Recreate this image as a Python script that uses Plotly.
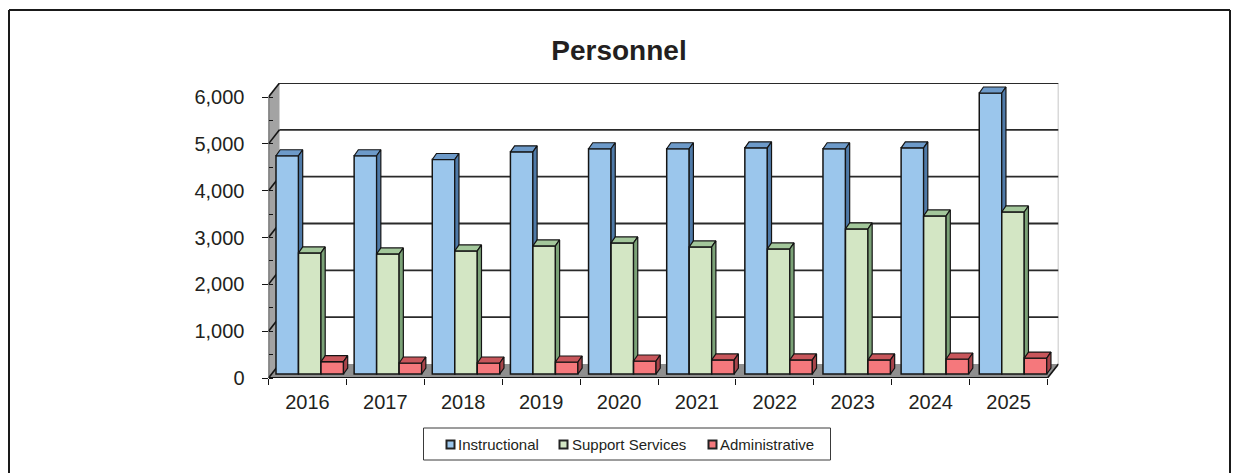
import plotly.graph_objects as go

years = ["2016", "2017", "2018", "2019", "2020", "2021", "2022", "2023", "2024", "2025"]
instructional = [4660, 4660, 4580, 4745, 4810, 4810, 4830, 4810, 4830, 6000]
support = [2585, 2564, 2628, 2735, 2800, 2714, 2670, 3098, 3376, 3460]
administrative = [263, 235, 235, 256, 278, 300, 300, 300, 320, 340]
y_ticks = [0, 1000, 2000, 3000, 4000, 5000, 6000]

series_names = ["Instructional", "Support Services", "Administrative"]
series_values = [instructional, support, administrative]
front_colors = ["#9bc6ec", "#d3e6c4", "#f5787c"]
top_colors = ["#6d9ac9", "#a3c79b", "#c8565b"]
side_colors = ["#4f7aa8", "#7ba277", "#a8444a"]

W, H = 1241, 473
INK = "#141414"
TEXT = "#231f20"

# pixel geometry of the plot frame
PX_X0, PX_XW = 268.5, 77.9       # x=0 position, width of one category
PX_BAR_XW = 78.14                # bars repeat slightly wider than the tick spacing
PX_Y0, PX_YK = 378.0, 46.83      # y=0 position, px per 1000
PX_RIGHT, PX_TOP = 1058.5, 83.0

wall_dx = (PX_RIGHT - PX_X0 - 10 * PX_XW) / PX_XW
wall_dy = (PX_Y0 - PX_TOP) / PX_YK * 1000 - 6000
bar_lift = 4 / PX_YK * 1000      # bars sit a little behind the front edge
bar_w = 22.5 / PX_BAR_XW
bar_start = 7.5 / PX_BAR_XW
bar_dx = 4.2 / PX_BAR_XW
bar_dy = 6 / PX_YK * 1000

x_range = [0, 10 + wall_dx]
bar_x_range = [0, (PX_RIGHT - PX_X0) / PX_BAR_XW]
y_range = [0, 6000 + wall_dy]
dom_x = [PX_X0 / W, PX_RIGHT / W]
dom_y = [(H - PX_Y0) / H, (H - PX_TOP) / H]

fig = go.Figure()

for s, (name, vals) in enumerate(zip(series_names, series_values)):
    ax = s + 2
    xa, ya = f"x{ax}", f"y{ax}"
    x0s = [i + bar_start + s * bar_w for i in range(len(vals))]
    fig.add_trace(go.Bar(
        x=[x + bar_w / 2 for x in x0s], y=vals, width=bar_w, name=name,
        marker=dict(color=front_colors[s], line=dict(color=INK, width=1.5)),
        xaxis=xa, yaxis=ya, showlegend=False,
    ))
    top_x, top_y, side_x, side_y = [], [], [], []
    for x0, v in zip(x0s, vals):
        x1 = x0 + bar_w
        top_x += [x0, x0 + bar_dx, x1 + bar_dx, x1, x0, None]
        top_y += [v, v + bar_dy, v + bar_dy, v, v, None]
        side_x += [x1, x1 + bar_dx, x1 + bar_dx, x1, x1, None]
        side_y += [v, v + bar_dy, bar_dy, 0, v, None]
    for px, py, col in ((top_x, top_y, top_colors[s]), (side_x, side_y, side_colors[s])):
        fig.add_trace(go.Scatter(
            x=px, y=py, mode="lines", fill="toself", fillcolor=col,
            line=dict(color=INK, width=1.2), xaxis=xa, yaxis=ya,
            showlegend=False, hoverinfo="skip",
        ))

shapes = []

def seg(x0, y0, x1, y1, color=INK, width=2):
    shapes.append(dict(type="line", xref="x", yref="y", x0=x0, y0=y0, x1=x1, y1=y1,
                       line=dict(color=color, width=width), layer="below"))

# left wall and floor
shapes.append(dict(type="path", xref="x", yref="y", layer="below", line=dict(width=0),
                   fillcolor="#a3a3a3",
                   path=f"M0,0 L0,6000 L{wall_dx},{6000 + wall_dy} L{wall_dx},{wall_dy} Z"))
shapes.append(dict(type="path", xref="x", yref="y", layer="below", line=dict(width=0),
                   fillcolor="#8f8f8f",
                   path=f"M0,0 L10,0 L{10 + wall_dx},{wall_dy} L{wall_dx},{wall_dy} Z"))
# back wall edges and gridlines
seg(10 + wall_dx, wall_dy, 10 + wall_dx, 6000 + wall_dy, "#b4b4b4", 1.5)
for v in y_ticks:
    seg(0, v, wall_dx, v + wall_dy, INK, 1.6)
    if v > 0:
        seg(wall_dx, v + wall_dy, 10 + wall_dx, v + wall_dy, "#2a2a2a", 1.8)
seg(10, 0, 10 + wall_dx, wall_dy, INK, 1.6)
# front spines
seg(0, 0, 0, 6000, "#3a3a3a", 1.5)
seg(0, 0, 10, 0, INK, 2.2)

# page frame (open at the bottom)
for x0, y0, x1, y1 in ((9, 473, 9, 10), (9, 10, 1230, 10), (1230, 10, 1230, 473)):
    shapes.append(dict(type="line", xref="paper", yref="paper",
                       x0=x0 / W, x1=x1 / W, y0=1 - y0 / H, y1=1 - y1 / H,
                       line=dict(color="#1a1a1a", width=2)))

# legend box, swatches and labels
shapes.append(dict(type="rect", xref="paper", yref="paper", x0=423.5 / W, x1=830.5 / W,
                   y0=1 - 460 / H, y1=1 - 428 / H, line=dict(color="#3a3a3a", width=1)))
legend_swatch_px = [446, 559, 708]
legend_text_px = [458, 572, 720]
annotations = []
for s, name in enumerate(series_names):
    shapes.append(dict(type="rect", xref="paper", yref="paper",
                       x0=(legend_swatch_px[s] + 0.5) / W, x1=(legend_swatch_px[s] + 8.5) / W,
                       y0=1 - 448.5 / H, y1=1 - 440.5 / H,
                       fillcolor=front_colors[s], line=dict(color="#222222", width=2)))
    annotations.append(dict(text=name, xref="paper", yref="paper", x=legend_text_px[s] / W,
                            y=1 - 444 / H, xanchor="left", yanchor="middle", showarrow=False,
                            xshift=-1, borderpad=0,
                            font=dict(family="Liberation Sans", size=15, color=TEXT)))

layout = dict(
    width=W, height=H, autosize=False, margin=dict(l=0, r=0, t=0, b=0),
    paper_bgcolor="white", plot_bgcolor="rgba(0,0,0,0)",
    barmode="overlay", showlegend=False,
    font=dict(family="Liberation Sans", color=TEXT),
    title=dict(text="<b>Personnel</b>", x=619 / W, y=1 - 50 / H, xanchor="center", yanchor="middle",
               font=dict(family="Liberation Sans", size=28, color=TEXT)),
    shapes=shapes, annotations=annotations,
    xaxis=dict(domain=dom_x, range=x_range, showgrid=False, zeroline=False, showline=False,
               automargin=False, ticklabelstandoff=10,
               tickmode="array", tickvals=[i + 0.5 for i in range(len(years))], ticktext=years,
               ticks="", tickfont=dict(size=20, color=TEXT),
               minor=dict(ticks="outside", tick0=0, dtick=1, ticklen=6, tickcolor=INK, tickwidth=1.2)),
    yaxis=dict(domain=dom_y, range=y_range, showgrid=False, zeroline=False, showline=False,
               automargin=False, ticklabelstandoff=13,
               tickmode="array", tickvals=y_ticks, ticktext=[f"{v:,}" for v in y_ticks],
               ticks="outside", ticklen=6, tickcolor=INK, tickwidth=1.4,
               tickfont=dict(size=20, color=TEXT),
               minor=dict(ticks="inside", tick0=0, dtick=500, ticklen=4, tickcolor=INK, tickwidth=1)),
)
for s in range(3):
    k = s + 2
    layout[f"xaxis{k}"] = dict(domain=dom_x, range=bar_x_range, overlaying="x", visible=False,
                               anchor=f"y{k}", automargin=False)
    layout[f"yaxis{k}"] = dict(domain=dom_y, range=[-bar_lift, y_range[1] - bar_lift],
                               overlaying="y", visible=False, anchor=f"x{k}", automargin=False)
fig.update_layout(**layout)

fig.write_html("out.html", default_width=f"{W}px", default_height=f"{H}px",
               config=dict(displayModeBar=False, responsive=False),
               post_script="document.body.style.margin='0';document.documentElement.style.overflow='hidden';")
